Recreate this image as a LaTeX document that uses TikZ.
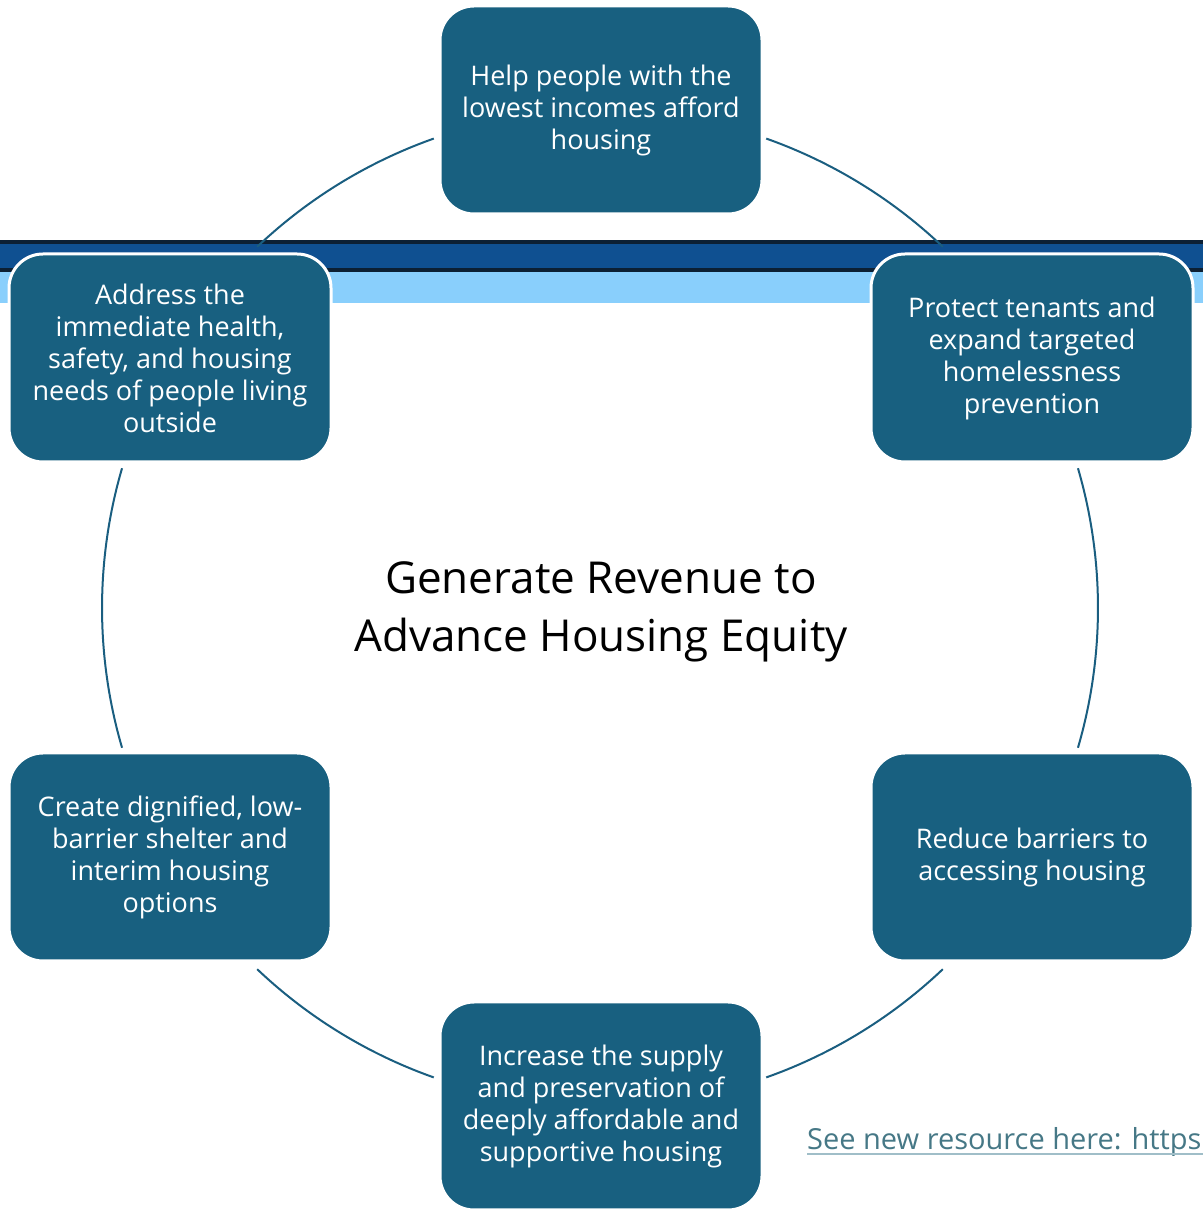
\documentclass[tikz,border=0pt]{standalone}
\usepackage{fontspec}
\setmainfont{Open Sans}
\usetikzlibrary{calc}
\definecolor{boxfill}{RGB}{24,96,128}
\definecolor{ringcol}{RGB}{26,94,128}
\definecolor{bandblue}{RGB}{15,80,145}
\definecolor{banddark}{RGB}{12,32,52}
\definecolor{bandlight}{RGB}{137,207,252}
\definecolor{linkcol}{RGB}{70,120,134}
\definecolor{linkline}{RGB}{160,190,200}
\begin{document}
\begin{tikzpicture}[x=1pt,y=1pt,
  goalbox/.style={draw=white, line width=3pt, fill=boxfill, rounded corners=34pt,
    minimum width=322pt, minimum height=208pt, text=white, align=center,
    font=\fontsize{27}{32}\selectfont, inner sep=0pt},
  ring/.style={draw=ringcol, line width=2pt}]
\useasboundingbox (0,0) rectangle (1203,1211);
% band
\fill[banddark] (0,939) rectangle (1203,971);
\fill[bandblue] (0,943) rectangle (1203,967);
\fill[bandlight] (0,908) rectangle (1203,939);
% ring
\coordinate (C) at (600,603);
\def\R{498}
\draw[ring] ($(C)+(70.5:\R)$) arc[start angle=70.5, end angle=46.5, radius=\R];
\draw[ring] ($(C)+(16.3:\R)$) arc[start angle=16.3, end angle=-16.3, radius=\R];
\draw[ring] ($(C)+(-46.5:\R)$) arc[start angle=-46.5, end angle=-70.5, radius=\R];
\draw[ring] ($(C)+(-109.5:\R)$) arc[start angle=-109.5, end angle=-133.5, radius=\R];
\draw[ring] ($(C)+(196.3:\R)$) arc[start angle=196.3, end angle=163.7, radius=\R];
\draw[ring] ($(C)+(133.5:\R)$) arc[start angle=133.5, end angle=109.5, radius=\R];
% boxes
\node[goalbox] (top) at (601,1101) {Help people with the\\lowest incomes afford\\housing};
\node[goalbox] (lt) at (170,853) {Address the\\immediate health,\\safety, and housing\\needs of people living\\outside};
\node[goalbox] (rt) at (1032,853) {Protect tenants and\\expand targeted\\homelessness\\prevention};
\node[goalbox] (lb) at (170,354) {Create dignified, low-\\barrier shelter and\\interim housing\\options};
\node[goalbox] (rb) at (1032,354) {Reduce barriers to\\accessing housing};
\node[goalbox] (bot) at (601,105) {Increase the supply\\and preservation of\\deeply affordable and\\supportive housing};
% title
\node[align=center, font=\fontsize{44}{58}\selectfont] (title) at (601,599) {Generate Revenue to\\Advance Housing Equity};
% link
\begin{scope}
\clip (780,40) rectangle (1203,100);
\node[anchor=base west, inner sep=0pt, text=linkcol, font=\fontsize{29}{32}\selectfont] (link) at (807,61) {See new resource here: https};
\draw[linkline, line width=1.2pt] (807,57) -- (1203,57);
\end{scope}
\end{tikzpicture}
\end{document}
